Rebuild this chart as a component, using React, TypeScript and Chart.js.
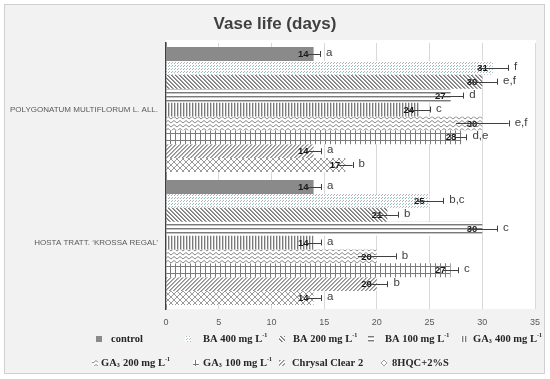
import React, { useEffect, useRef } from 'react';
import { Chart, registerables } from 'chart.js';

Chart.register(...registerables);

// ---------------- data ----------------
const categories = ['POLYGONATUM MULTIFLORUM L. ALL.', 'HOSTA TRATT. ‘KROSSA REGAL’'];
const seriesNames = [
  'control',
  'BA 400 mg L⁻¹',
  'BA 200 mg L⁻¹',
  'BA 100 mg L⁻¹',
  'GA₃ 400 mg L⁻¹',
  'GA₃ 200 mg L⁻¹',
  'GA₃ 100 mg L⁻¹',
  'Chrysal Clear 2',
  '8HQC+2%S',
];
const polygonatumValues = [14, 31, 30, 27, 24, 30, 28, 14, 17];
const hostaValues = [14, 25, 21, 30, 14, 20, 27, 20, 14];
const polygonatumErrors = [0.6, 1.45, 1.4, 1.2, 1.05, 2.5, 0.5, 0.7, 0.7];
const hostaErrors = [0.7, 1.3, 1.0, 1.4, 0.7, 1.8, 0.7, 1.0, 0.7];
const polygonatumLetters = ['a', 'f', 'e,f', 'd', 'c', 'e,f', 'd,e', 'a', 'b'];
const hostaLetters = ['a', 'b,c', 'b', 'c', 'a', 'b', 'c', 'b', 'a'];
const xTickValues = [0, 5, 10, 15, 20, 25, 30, 35];
const titleText = 'Vase life (days)';

// ---------------- styling ----------------
const patternKinds = ['solid', 'dots', 'back', 'hlines', 'vlines', 'zigzag', 'plaid', 'fwd', 'diamond'];
const legendRowOf = [0, 0, 0, 0, 0, 1, 1, 1, 1];
const legendRowY = [339, 363];
const legendMarkerX = [96, 185, 279, 368, 461, 92, 193, 279, 381];
const legendTextX = [111, 203, 293, 385, 473, 101, 203, 292, 392];

const SANS = '"Liberation Sans", Arial, sans-serif';
const SERIF = '"Liberation Serif", "Times New Roman", serif';

function makePattern(kind: string): CanvasPattern | string {
  if (kind === 'solid') return '#8a8a8a';
  const c = document.createElement('canvas');
  let w = 4, h = 4;
  if (kind === 'dots') { w = 3; h = 3; }
  if (kind === 'vlines') { w = 3; h = 3; }
  if (kind === 'zigzag') { w = 6; h = 4; }
  if (kind === 'plaid') { w = 5; h = 7; }
  if (kind === 'diamond') { w = 6; h = 6; }
  c.width = w; c.height = h;
  const g = c.getContext('2d')!;
  g.fillStyle = '#ffffff';
  g.fillRect(0, 0, w, h);
  const px = (x: number, y: number, col: string) => { g.fillStyle = col; g.fillRect(x, y, 1, 1); };
  switch (kind) {
    case 'dots':
      px(0, 0, '#8fbdbd');
      px(1, 2, '#b4b4b4');
      break;
    case 'back':
      for (let i = 0; i < 4; i++) { px(i, i, '#7a7a7a'); px((i + 1) % 4, i, '#9a9a9a'); }
      break;
    case 'hlines':
      g.fillStyle = '#7a7a7a'; g.fillRect(0, 0, w, 1);
      g.fillStyle = '#c4c4c4'; g.fillRect(0, 1, w, 1);
      break;
    case 'vlines':
      g.fillStyle = '#7a7a7a'; g.fillRect(0, 0, 1, h);
      g.fillStyle = '#d0d0d0'; g.fillRect(1, 0, 1, h);
      break;
    case 'zigzag':
      g.strokeStyle = '#8a8a8a'; g.lineWidth = 1;
      g.beginPath(); g.moveTo(0, 0.5); g.lineTo(3, 3); g.lineTo(6, 0.5); g.stroke();
      break;
    case 'plaid':
      g.fillStyle = '#7a7a7a'; g.fillRect(0, 0, 1, h); g.fillRect(0, 0, w, 1);
      break;
    case 'fwd':
      for (let i = 0; i < 4; i++) { px(3 - i, i, '#8f8f8f'); px((4 - i) % 4, i, '#b0b0b0'); }
      break;
    case 'diamond':
      g.strokeStyle = '#9a9a9a'; g.lineWidth = 1;
      g.beginPath(); g.moveTo(0, 0); g.lineTo(6, 6); g.moveTo(6, 0); g.lineTo(0, 6); g.stroke();
      break;
  }
  return g.createPattern(c, 'repeat')!;
}

function drawRich(ctx: CanvasRenderingContext2D, text: string, x: number, y: number, size: number) {
  const subs = '₀₁₂₃₄₅₆₇₈₉';
  const sups: Record<string, string> = { '⁻': '-', '¹': '1', '²': '2', '³': '3' };
  const segs: { t: string; k: string }[] = [];
  for (const ch of text) {
    let k = 'n', c = ch;
    const si = subs.indexOf(ch);
    if (si >= 0) { k = 'sub'; c = String(si); }
    else if (sups[ch]) { k = 'sup'; c = sups[ch]; }
    const last = segs[segs.length - 1];
    if (last && last.k === k) last.t += c; else segs.push({ t: c, k });
  }
  let cx = x;
  ctx.textBaseline = 'middle';
  ctx.textAlign = 'left';
  for (const s of segs) {
    const fs = s.k === 'n' ? size : size * 0.58;
    const dy = s.k === 'sub' ? size * 0.22 : s.k === 'sup' ? -size * 0.32 : 0;
    ctx.font = `bold ${fs}px ${SERIF}`;
    ctx.fillText(s.t, cx, y + dy);
    cx += ctx.measureText(s.t).width + (s.k === 'n' ? 0 : 0.5);
  }
}

export default function App() {
  const ref = useRef<HTMLCanvasElement>(null);

  useEffect(() => {
    const canvas = ref.current!;
    const fills = patternKinds.map(makePattern);

    const datasets = seriesNames.map((name, i) => ({
      label: name,
      data: [polygonatumValues[i], hostaValues[i]],
      errors: [polygonatumErrors[i], hostaErrors[i]],
      letters: [polygonatumLetters[i], hostaLetters[i]],
      backgroundColor: fills[i],
      borderWidth: 0,
      categoryPercentage: 0.94,
      barPercentage: 1,
    }));

    const bgPlugin = {
      id: 'bg',
      beforeDraw(chart: any) {
        const { ctx, width, height, chartArea } = chart;
        ctx.save();
        ctx.fillStyle = '#ffffff';
        ctx.fillRect(0, 0, width, height);
        ctx.fillStyle = '#f2f2f2';
        ctx.fillRect(4, 4, 540, 369);
        ctx.strokeStyle = '#d0d0d0';
        ctx.lineWidth = 1;
        ctx.strokeRect(4.5, 4.5, 540, 369);
        ctx.fillStyle = '#ffffff';
        ctx.fillRect(chartArea.left, chartArea.top - 3, chartArea.right - chartArea.left + 1, chartArea.bottom - chartArea.top + 3);
        // title
        ctx.fillStyle = '#404040';
        ctx.font = `bold 17px ${SANS}`;
        ctx.textAlign = 'center';
        ctx.textBaseline = 'middle';
        ctx.fillText(titleText, 275, 24);
        ctx.restore();
      },
    };

    const annotPlugin = {
      id: 'annot',
      afterDatasetsDraw(chart: any) {
        const { ctx } = chart;
        const xs = chart.scales.x;
        ctx.save();
        chart.data.datasets.forEach((ds: any, di: number) => {
          const meta = chart.getDatasetMeta(di);
          meta.data.forEach((el: any, ci: number) => {
            const v = ds.data[ci];
            const err = ds.errors[ci];
            const y = el.y;
            const xEnd = el.x;
            ctx.font = `bold 9.5px ${SANS}`;
            ctx.textAlign = 'right';
            ctx.textBaseline = 'middle';
            ctx.fillStyle = '#1a1a1a';
            ctx.fillText(String(v), xEnd - 5, y + 0.5);
            const x1 = xs.getPixelForValue(v - err);
            const x2 = xs.getPixelForValue(v + err);
            ctx.strokeStyle = '#404040';
            ctx.lineWidth = 1;
            ctx.beginPath();
            ctx.moveTo(x1, Math.round(y) + 0.5);
            ctx.lineTo(x2, Math.round(y) + 0.5);
            ctx.moveTo(Math.round(x2) + 0.5, y - 3);
            ctx.lineTo(Math.round(x2) + 0.5, y + 3);
            ctx.stroke();
            ctx.font = `11.5px ${SANS}`;
            ctx.textAlign = 'left';
            ctx.fillStyle = '#404040';
            ctx.fillText(ds.letters[ci], x2 + 6, y - 1);
          });
        });
        ctx.restore();
      },
    };

    const legendPlugin = {
      id: 'customLegend',
      afterDraw(chart: any) {
        const { ctx } = chart;
        ctx.save();
        chart.data.datasets.forEach((ds: any, i: number) => {
          const y = legendRowY[legendRowOf[i]];
          ctx.fillStyle = ds.backgroundColor;
          ctx.fillRect(legendMarkerX[i], y - 3, 6, 6);
          ctx.fillStyle = '#262626';
          drawRich(ctx, ds.label, legendTextX[i], y, 10.5);
        });
        ctx.restore();
      },
    };

    const chart = new Chart(canvas, {
      type: 'bar',
      data: { labels: categories, datasets: datasets as any },
      options: {
        indexAxis: 'y',
        responsive: false,
        animation: false,
        devicePixelRatio: 1,
        layout: { padding: { left: 0, right: 15, top: 43, bottom: 50 } },
        plugins: {
          legend: { display: false },
          title: { display: false },
          tooltip: { enabled: false },
        },
        scales: {
          x: {
            min: 0,
            max: 35,
            afterBuildTicks: (s: any) => { s.ticks = xTickValues.map((v) => ({ value: v })); },
            ticks: { padding: 8, color: '#595959', font: { family: SANS, size: 9 } },
            grid: { color: '#d9d9d9', drawTicks: false },
            border: { display: false },
            afterFit: (s: any) => { s.height = 20; },
          },
          y: {
            ticks: { padding: 8, color: '#595959', font: { family: SANS, size: 8 } },
            grid: { display: false, drawTicks: false },
            border: { display: true, color: '#404040', width: 1.5 },
            afterFit: (s: any) => { s.width = 166; },
          },
        },
      } as any,
      plugins: [bgPlugin, annotPlugin, legendPlugin],
    });
    return () => chart.destroy();
  }, []);

  return (
    <div style={{ position: 'fixed', left: 0, top: 0, width: 550, height: 379 }}>
      <canvas ref={ref} width={550} height={379} style={{ display: 'block', width: 550, height: 379 }} />
    </div>
  );
}
